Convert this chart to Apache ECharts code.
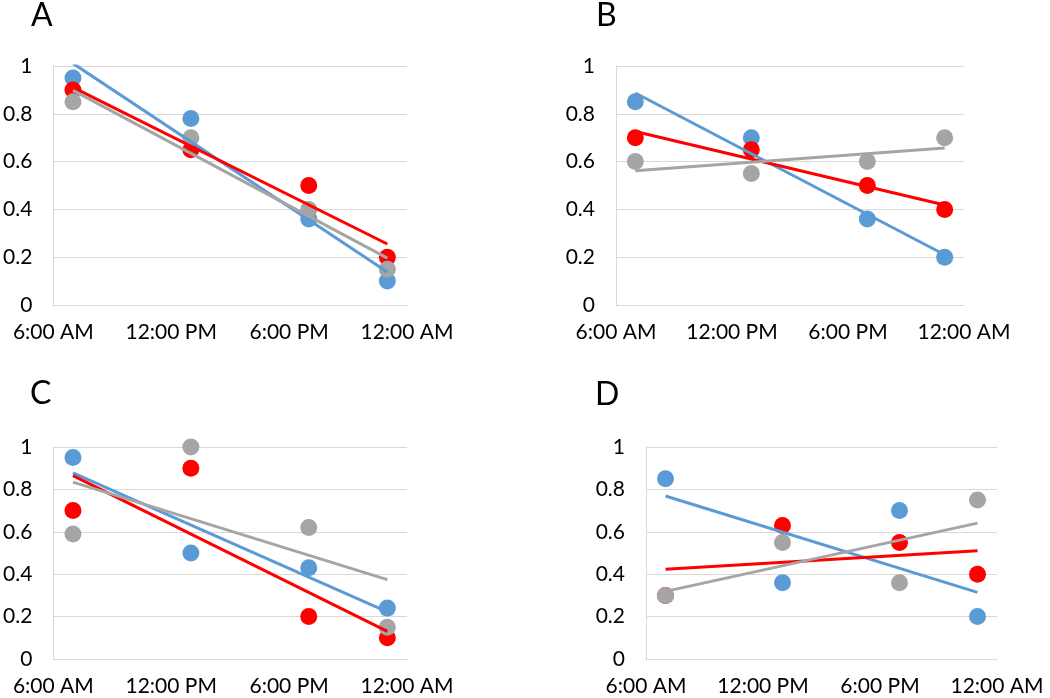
<!DOCTYPE html>
<html>
<head>
<meta charset="utf-8">
<script src="https://cdn.jsdelivr.net/npm/echarts@6/dist/echarts.min.js"></script>
<style>
html,body{margin:0;padding:0;background:#fff;}
#chart{width:1050px;height:698px;}
</style>
</head>
<body>
<div id="chart"></div>
<script>
// Data (hours of day)
var hours = [7, 13, 19, 23];
var xTickLabels = ["6:00 AM", "12:00 PM", "6:00 PM", "12:00 AM"];
var panelNames = ["A", "B", "C", "D"];

var blueA = [0.95, 0.78, 0.36, 0.10];
var redA  = [0.90, 0.65, 0.50, 0.20];
var grayA = [0.85, 0.70, 0.40, 0.15];

var blueB = [0.85, 0.70, 0.36, 0.20];
var redB  = [0.70, 0.65, 0.50, 0.40];
var grayB = [0.60, 0.55, 0.60, 0.70];

var blueC = [0.95, 0.50, 0.43, 0.24];
var redC  = [0.70, 0.90, 0.20, 0.10];
var grayC = [0.59, 1.00, 0.62, 0.15];

var blueD = [0.85, 0.36, 0.70, 0.20];
var redD  = [0.30, 0.63, 0.55, 0.40];
var grayD = [0.30, 0.55, 0.36, 0.75];

var panels = [
  {blue: blueA, red: redA, gray: grayA},
  {blue: blueB, red: redB, gray: grayB},
  {blue: blueC, red: redC, gray: grayC},
  {blue: blueD, red: redD, gray: grayD}
];

var COLORS = {blue: '#5B9BD5', red: '#FF0000', gray: '#A5A5A5'};
var FONT = 'Lato';

var grids = [
  {left: 53, top: 66, width: 354, height: 239},
  {left: 616, top: 66, width: 348, height: 239},
  {left: 53, top: 447, width: 354, height: 212},
  {left: 646, top: 447, width: 351, height: 212}
];
var letterPos = [[31, 0], [596, 0], [30, 378], [595, 379]];

function fit(xs, ys) {
  var n = xs.length, mx = 0, my = 0;
  for (var i = 0; i < n; i++) { mx += xs[i]; my += ys[i]; }
  mx /= n; my /= n;
  var sxy = 0, sxx = 0;
  for (var j = 0; j < n; j++) { sxy += (xs[j] - mx) * (ys[j] - my); sxx += (xs[j] - mx) * (xs[j] - mx); }
  var b = sxy / sxx, a = my - b * mx;
  var x0 = xs[0], x1 = xs[n - 1];
  return [[x0, a + b * x0], [x1, a + b * x1]];
}

var xAxes = [], yAxes = [], series = [], graphics = [];
grids.forEach(function (g, i) {
  xAxes.push({
    type: 'value', gridIndex: i, min: 6, max: 24, interval: 6,
    axisLine: {show: true, lineStyle: {color: '#D9D9D9', width: 1}},
    axisTick: {show: false},
    splitLine: {show: false},
    axisLabel: {
      color: '#000', fontFamily: FONT, fontSize: 21, margin: 17,
      formatter: function (v) { return xTickLabels[Math.round((v - 6) / 6)]; }
    }
  });
  yAxes.push({
    type: 'value', gridIndex: i, min: 0, max: 1, interval: 0.2,
    axisLine: {show: true, lineStyle: {color: '#D9D9D9', width: 1}},
    axisTick: {show: false},
    splitLine: {show: true, lineStyle: {color: '#D9D9D9', width: 1}},
    axisLabel: {color: '#000', fontFamily: FONT, fontSize: 21, margin: 21}
  });
  var p = panels[i];
  ['blue', 'red', 'gray'].forEach(function (k) {
    series.push({
      type: 'scatter', xAxisIndex: i, yAxisIndex: i,
      symbol: 'circle', symbolSize: 17,
      itemStyle: {color: COLORS[k], opacity: 1},
      data: hours.map(function (h, j) { return [h, p[k][j]]; }),
      z: 2
    });
  });
  ['blue', 'red', 'gray'].forEach(function (k) {
    series.push({
      type: 'line', xAxisIndex: i, yAxisIndex: i,
      showSymbol: false, symbol: 'none', clip: true,
      lineStyle: {color: COLORS[k], width: 3},
      data: fit(hours, p[k]),
      z: 3
    });
  });
  graphics.push({
    type: 'text', left: letterPos[i][0], top: letterPos[i][1],
    style: {text: panelNames[i], font: '32px ' + FONT, fill: '#000'}
  });
});

var chart = echarts.init(document.getElementById('chart'));
chart.setOption({
  animation: false,
  backgroundColor: '#fff',
  grid: grids.map(function (g) { return Object.assign({containLabel: false}, g); }),
  xAxis: xAxes,
  yAxis: yAxes,
  series: series,
  graphic: graphics
});
</script>
</body>
</html>
